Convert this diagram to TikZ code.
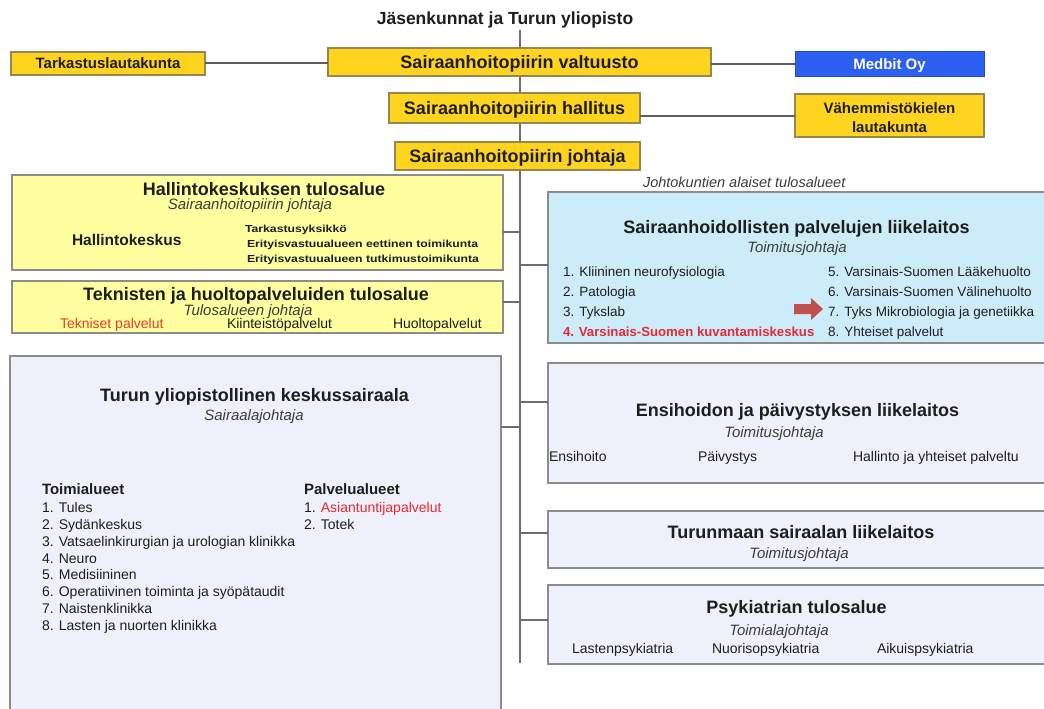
\documentclass[tikz,border=0pt]{standalone}
\usepackage{fontspec}
\setmainfont{Liberation Sans}
\newfontfamily\widefnt[FakeStretch=1.2]{Liberation Sans}
\newcommand{\myfs}[1]{\fontsize{#1}{#1}\selectfont}
\definecolor{gold}{RGB}{255,212,30}
\definecolor{goldedge}{RGB}{150,135,80}
\definecolor{paleyellow}{RGB}{255,255,160}
\definecolor{paleblue}{RGB}{204,236,250}
\definecolor{lavender}{RGB}{238,241,251}
\definecolor{medblue}{RGB}{45,95,240}
\definecolor{boxedge}{RGB}{140,140,140}
\definecolor{linegrey}{RGB}{110,110,110}
\definecolor{ink}{RGB}{30,30,30}
\definecolor{subink}{RGB}{60,60,60}
\definecolor{redtxt}{RGB}{232,40,50}
\definecolor{orangered}{RGB}{235,60,40}
\definecolor{arrowred}{RGB}{192,80,77}
\begin{document}
\begin{tikzpicture}[x=1pt,y=-1pt,
  every node/.style={inner sep=0pt, outer sep=0pt},
  topbox/.style={draw=goldedge, fill=gold, line width=1.2pt, text=ink, text depth=0pt},
  medbox/.style={draw=medblue!80!black, fill=medblue, line width=1pt, text=white, text depth=0pt},
  paleybox/.style={draw=boxedge, fill=paleyellow, line width=1.2pt},
  palebbox/.style={draw=boxedge, fill=paleblue, line width=1.2pt},
  lavbox/.style={draw=boxedge, fill=lavender, line width=1.2pt},
  conntop/.style={draw=linegrey!85!black, line width=2pt},
  conn/.style={draw=linegrey, line width=1.5pt},
  ttl/.style={anchor=base, font=\myfs{18}\bfseries, text=ink},
  sub/.style={anchor=base, font=\myfs{15}\itshape, text=subink},
  itm/.style={anchor=base west, font=\myfs{14}, text=ink},
  bitm/.style={anchor=base west, font=\myfs{13.5}, text=ink},
  smallb/.style={anchor=base west, font=\widefnt\myfs{10.2}\bfseries, text=ink}
]
\useasboundingbox (0,0) rectangle (1044,709);
\fill[white] (0,0) rectangle (1044,709);

% trunk
\coordinate (trunktop) at (520,30);
\coordinate (trunkbot) at (520,663);
\draw[conn] (trunktop) -- (trunkbot);

% title
\node[anchor=base, font=\myfs{17.5}\bfseries, text=ink] (title) at (505,25) {Jäsenkunnat ja Turun yliopisto};

% top boxes
\node[topbox, minimum width=194pt, minimum height=23pt, font=\myfs{15}\bfseries, text height=10.8pt] (tark) at (108,63.5) {Tarkastuslautakunta};
\node[topbox, minimum width=383pt, minimum height=28pt, font=\myfs{18}\bfseries, text height=13pt] (valt) at (519.5,62) {Sairaanhoitopiirin valtuusto};
\node[medbox, minimum width=189pt, minimum height=25pt, font=\myfs{15}\bfseries, text height=10.8pt] (medbit) at (889.5,64.5) {Medbit Oy};
\node[topbox, minimum width=251pt, minimum height=30pt, font=\myfs{18}\bfseries, text height=13pt] (hall) at (514.5,108) {Sairaanhoitopiirin hallitus};
\node[topbox, minimum width=189pt, minimum height=43pt] (vahe) at (889.5,115.5) {};
\node[anchor=base, font=\myfs{15}\bfseries, text=ink] (vahe1) at (889.5,113) {Vähemmistökielen};
\node[anchor=base, font=\myfs{15}\bfseries, text=ink] (vahe2) at (889.5,132) {lautakunta};
\node[topbox, minimum width=245pt, minimum height=28pt, font=\myfs{18}\bfseries, text height=13pt] (joht) at (517.5,156) {Sairaanhoitopiirin johtaja};

\draw[conntop] (tark.east) -- (tark.east -| valt.west);
\draw[conntop] (medbit.west -| valt.east) -- (medbit.west);
\draw[conntop] (vahe.west -| hall.east) -- (vahe.west);

% lower boxes
\node[paleybox, minimum width=491pt, minimum height=95pt] (hk) at (257.5,222.5) {};
\node[paleybox, minimum width=491pt, minimum height=52pt] (tek) at (257.5,307) {};
\node[palebbox, minimum width=502pt, minimum height=151pt] (spl) at (799,267.5) {};
\node[lavbox, minimum width=491pt, minimum height=359pt] (tyks) at (255.5,535.5) {};
\node[lavbox, minimum width=502pt, minimum height=120pt] (ens) at (799,423) {};
\node[lavbox, minimum width=502pt, minimum height=57pt] (tur) at (799,539.5) {};
\node[lavbox, minimum width=502pt, minimum height=79pt] (psy) at (799,624.5) {};

% junctions on the trunk
\coordinate (jhk) at (520,232);
\coordinate (jtek) at (520,302);
\coordinate (jspl) at (520,265);
\coordinate (jtyks) at (520,427);
\coordinate (jens) at (520,402);
\coordinate (jtur) at (520,533);
\coordinate (jpsy) at (520,620);
\draw[conn] (jhk) -- (jhk -| hk.east);
\draw[conn] (jtek) -- (jtek -| tek.east);
\draw[conn] (jspl) -- (jspl -| spl.west);
\draw[conn] (jtyks) -- (jtyks -| tyks.east);
\draw[conn] (jens) -- (jens -| ens.west);
\draw[conn] (jtur) -- (jtur -| tur.west);
\draw[conn] (jpsy) -- (jpsy -| psy.west);

% Hallintokeskuksen tulosalue
\node[ttl] (hkt) at (264,195) {Hallintokeskuksen tulosalue};
\node[sub] (hks) at (250,209) {Sairaanhoitopiirin johtaja};
\node[anchor=base west, font=\myfs{15.5}\bfseries, text=ink] (hkk) at (72,245) {Hallintokeskus};
\node[smallb] (hk1) at (245,232) {Tarkastusyksikkö};
\node[smallb] (hk2) at (247,247) {Erityisvastuualueen eettinen toimikunta};
\node[smallb] (hk3) at (247,262) {Erityisvastuualueen tutkimustoimikunta};

% Teknisten
\node[ttl] (tekt) at (256,300) {Teknisten ja huoltopalveluiden tulosalue};
\node[sub] (teks) at (248,315) {Tulosalueen johtaja};
\node[itm, text=orangered] (tek1) at (60,328) {Tekniset palvelut};
\node[itm] (tek2) at (227,328) {Kiinteistöpalvelut};
\node[itm] (tek3) at (393,328) {Huoltopalvelut};

% Sairaanhoidollisten
\node[anchor=base west, font=\myfs{14.5}\itshape, text=subink] (jat) at (643,187) {Johtokuntien alaiset tulosalueet};
\node[ttl] (splt) at (796.5,233) {Sairaanhoidollisten palvelujen liikelaitos};
\node[sub] (spls) at (797,252) {Toimitusjohtaja};
\node[bitm] (s1) at (563,276) {1. Kliininen neurofysiologia};
\node[bitm] (s2) at (563,296) {2. Patologia};
\node[bitm] (s3) at (563,316) {3. Tykslab};
\node[bitm, text=redtxt, font=\myfs{13.2}\bfseries] (s4) at (563,336) {4. Varsinais-Suomen kuvantamiskeskus};
\node[bitm] (s5) at (828,276) {5. Varsinais-Suomen Lääkehuolto};
\node[bitm] (s6) at (828,296) {6. Varsinais-Suomen Välinehuolto};
\node[bitm] (s7) at (828,316) {7. Tyks Mikrobiologia ja genetiikka};
\node[bitm] (s8) at (828,336) {8. Yhteiset palvelut};
\fill[arrowred] (794,304) -- (811,304) -- (811,298) -- (823,309) -- (811,320) -- (811,314) -- (794,314) -- cycle;

% Turun yliopistollinen keskussairaala
\node[ttl] (tyt) at (254.5,401.5) {Turun yliopistollinen keskussairaala};
\node[sub] (tys) at (254,420) {Sairaalajohtaja};
\node[anchor=base west, font=\myfs{15}\bfseries, text=ink] (toim) at (42,494) {Toimialueet};
\node[itm] (t1) at (42,512.7) {1. Tules};
\node[itm] (t2) at (42,529.5) {2. Sydänkeskus};
\node[itm] (t3) at (42,546.3) {3. Vatsaelinkirurgian ja urologian klinikka};
\node[itm] (t4) at (42,563.1) {4. Neuro};
\node[itm] (t5) at (42,579.9) {5. Medisiininen};
\node[itm] (t6) at (42,596.7) {6. Operatiivinen toiminta ja syöpätaudit};
\node[itm] (t7) at (42,613.5) {7. Naistenklinikka};
\node[itm] (t8) at (42,630.3) {8. Lasten ja nuorten klinikka};
\node[anchor=base west, font=\myfs{15}\bfseries, text=ink] (palv) at (304,494) {Palvelualueet};
\node[itm] (p1) at (304,512.7) {1. \textcolor{redtxt}{Asiantuntijapalvelut}};
\node[itm] (p2) at (304,529.5) {2. Totek};

% Ensihoidon
\node[ttl] (enst) at (797.5,416.5) {Ensihoidon ja päivystyksen liikelaitos};
\node[sub] (enss) at (774,437.5) {Toimitusjohtaja};
\node[itm] (e1) at (549,461) {Ensihoito};
\node[itm] (e2) at (698,461) {Päivystys};
\node[itm] (e3) at (853,461) {Hallinto ja yhteiset palveltu};

% Turunmaan
\node[ttl] (turt) at (801,538) {Turunmaan sairaalan liikelaitos};
\node[sub] (turs) at (799,558) {Toimitusjohtaja};

% Psykiatrian
\node[ttl] (psyt) at (796.5,613) {Psykiatrian tulosalue};
\node[sub] (psys) at (779,635) {Toimialajohtaja};
\node[itm] (ps1) at (572,653) {Lastenpsykiatria};
\node[itm] (ps2) at (712,653) {Nuorisopsykiatria};
\node[itm] (ps3) at (877,653) {Aikuispsykiatria};
\end{tikzpicture}
\end{document}
